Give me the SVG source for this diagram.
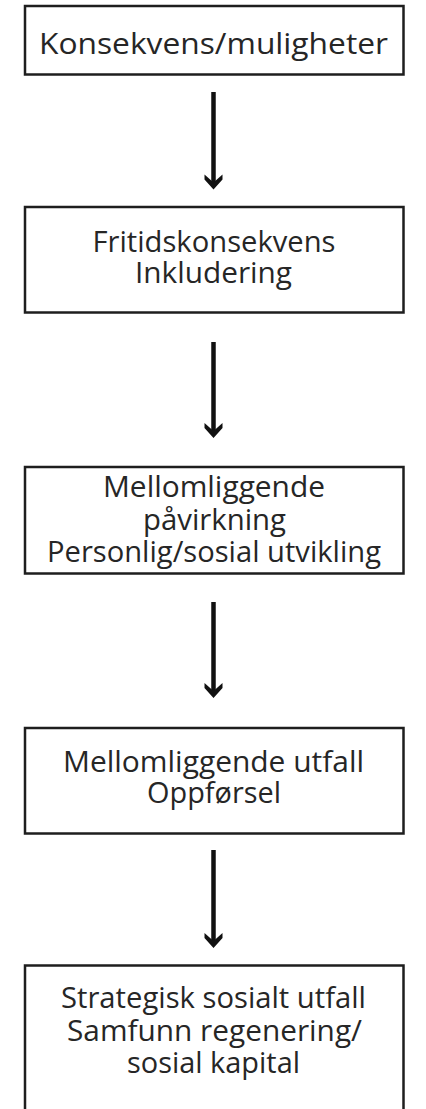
<svg xmlns="http://www.w3.org/2000/svg" width="426" height="1109" viewBox="0 0 426 1109">
  <style>
    .box { fill: #ffffff; stroke: #1e1e1e; stroke-width: 2.5; }
    .lbl { font-family: "Open Sans", "Liberation Sans", sans-serif; font-size: 29px; fill: #262626; text-anchor: middle; }
    .shaft { stroke: #111111; stroke-width: 4.5; fill: none; }
    .head { fill: #111111; }
  </style>
  <defs>
    <path id="chev" class="head" d="M-9,-1 L0,7 L9,-1 L9,4 L0,14 L-9,4 Z"/>
  </defs>
  <rect width="426" height="1109" fill="#ffffff"/>

  <g id="node1">
    <rect class="box" x="25" y="6" width="378.5" height="68.5"/>
    <text class="lbl" x="213.5" y="54" textLength="349" lengthAdjust="spacingAndGlyphs">Konsekvens/muligheter</text>
  </g>

  <g id="node2">
    <rect class="box" x="25" y="207" width="378.5" height="105.5"/>
    <text class="lbl" x="214" y="252" textLength="243" lengthAdjust="spacingAndGlyphs">Fritidskonsekvens</text>
    <text class="lbl" x="213.5" y="283" textLength="157" lengthAdjust="spacingAndGlyphs">Inkludering</text>
  </g>

  <g id="node3">
    <rect class="box" x="25" y="467" width="378.5" height="106.5"/>
    <text class="lbl" x="214" y="497" textLength="222" lengthAdjust="spacingAndGlyphs">Mellomliggende</text>
    <text class="lbl" x="214.5" y="530" textLength="143" lengthAdjust="spacingAndGlyphs">påvirkning</text>
    <text class="lbl" x="214" y="562" textLength="334" lengthAdjust="spacingAndGlyphs">Personlig/sosial utvikling</text>
  </g>

  <g id="node4">
    <rect class="box" x="25" y="728" width="378.5" height="105.5"/>
    <text class="lbl" x="213.5" y="772" textLength="301" lengthAdjust="spacingAndGlyphs">Mellomliggende utfall</text>
    <text class="lbl" x="214" y="803" textLength="134" lengthAdjust="spacingAndGlyphs">Oppførsel</text>
  </g>

  <g id="node5">
    <rect class="box" x="25" y="965.5" width="378.5" height="160"/>
    <text class="lbl" x="213.5" y="1008" textLength="305" lengthAdjust="spacingAndGlyphs">Strategisk sosialt utfall</text>
    <text class="lbl" x="214.5" y="1041" textLength="295" lengthAdjust="spacingAndGlyphs">Samfunn regenering/</text>
    <text class="lbl" x="213.5" y="1073" textLength="173" lengthAdjust="spacingAndGlyphs">sosial kapital</text>
  </g>

  <g id="connectors">
    <line class="shaft" x1="213.5" y1="92" x2="213.5" y2="184"/>
    <use href="#chev" x="213.5" y="175.5"/>
    <line class="shaft" x1="213.5" y1="342" x2="213.5" y2="432"/>
    <use href="#chev" x="213.5" y="424"/>
    <line class="shaft" x1="213.5" y1="602" x2="213.5" y2="692"/>
    <use href="#chev" x="213.5" y="684"/>
    <line class="shaft" x1="213.5" y1="850" x2="213.5" y2="942"/>
    <use href="#chev" x="213.5" y="934"/>
  </g>
</svg>
